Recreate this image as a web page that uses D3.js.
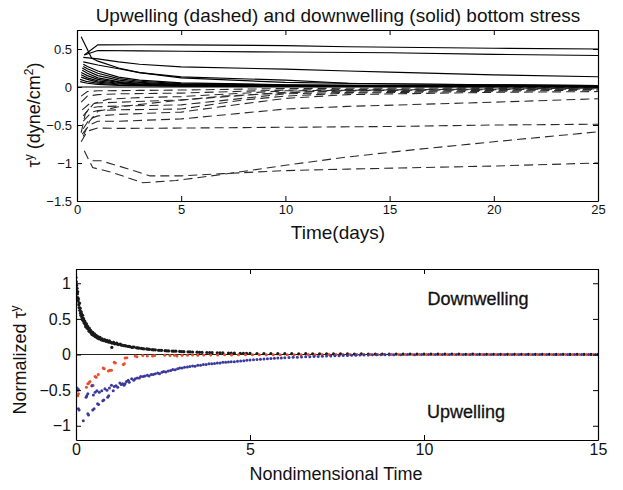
<!DOCTYPE html>
<html><head><meta charset="utf-8">
<script src="https://cdn.jsdelivr.net/npm/d3@7"></script>
<style>
body{margin:0;background:#fff}
text{font-family:"Liberation Sans",Arial,Helvetica,sans-serif;fill:#111}
</style>
</head><body><svg id="c" width="623" height="490"></svg>
<script>
// ---------- Upper panel: bottom stress time series (days, dyne/cm^2) ----------
const topXTicks = [0, 5, 10, 15, 20, 25];
const topYTicks = [-1.5, -1, -0.5, 0, 0.5];
const topYLabels = ["\u22121.5", "\u22121", "\u22120.5", "0", "0.5"];

// Downwelling runs (solid)
const down1 = [[0.35,.42],[1.0,.555],[3,.556],[5,.555],[10,.545],[13,.53],[20,.51],[25,.50]];
const down2 = [[0.35,.42],[1.0,.48],[3,.475],[5,.47],[10,.46],[15,.45],[20,.43],[25,.415]];
const down3 = [[0.2,.66],[0.7,.38],[1,.34],[2,.25],[3,.19],[5,.12],[10,.06],[15,.04],[20,.03],[25,.02]];
const down4 = [[0.3,.39],[1,.37],[2,.33],[3,.30],[5,.265],[10,.235],[13,.21],[15,.195],[20,.16],[25,.135]];
const down5 = [[0.3,.33],[1,.29],[2,.24],[3,.19],[5,.134],[10,.09],[13,.05],[20,.03],[25,.02]];
const down6 = [[0.3,.30],[0.5,.27],[1,.21],[2,.13],[3,.09],[5,.055],[10,.03],[15,.02],[25,.015]];
const down7 = [[0.3,.27],[0.5,.24],[1,.18],[2,.11],[3,.075],[5,.045],[10,.025],[25,.012]];
const down8 = [[0.25,.25],[0.5,.21],[1,.15],[2,.09],[3,.06],[5,.035],[10,.02],[25,.01]];
const down9 = [[0.25,.22],[0.5,.18],[1,.12],[2,.07],[3,.05],[5,.03],[10,.015],[25,.008]];
const down10 = [[0.2,.19],[0.5,.15],[1,.10],[2,.06],[3,.04],[5,.025],[10,.012],[25,.006]];
const down11 = [[0.2,.16],[0.5,.12],[1,.08],[2,.05],[3,.035],[5,.02],[10,.01],[25,.005]];
const down12 = [[0.2,.13],[0.5,.10],[1,.065],[2,.04],[3,.03],[5,.017],[25,.004]];
const down13 = [[0.15,.10],[0.5,.07],[1,.05],[2,.03],[3,.022],[5,.013],[25,.003]];
const down14 = [[0.15,.07],[0.5,.05],[1,.035],[2,.022],[5,.01],[25,.002]];
const downwelling = [down1,down2,down3,down4,down5,down6,down7,down8,down9,down10,down11,down12,down13,down14];

// Upwelling runs (dashed)
const up1 = [[0.2,-.72],[0.5,-.58],[1,-.54],[2,-.545],[5,-.54],[10,-.53],[15,-.52],[20,-.50],[25,-.49]];
const up2 = [[0.25,-.62],[0.6,-.50],[1,-.45],[2,-.45],[5,-.42],[10,-.29],[13,-.255],[20,-.20],[25,-.155]];
const up3 = [[0.3,-.55],[0.6,-.42],[1,-.38],[2,-.36],[5,-.33],[8,-.22],[10,-.15],[13,-.10],[20,-.07],[25,-.06]];
const up4 = [[0.3,-.45],[0.7,-.33],[1,-.31],[2,-.30],[5,-.29],[8,-.17],[10,-.12],[13,-.08],[25,-.04]];
const up5 = [[0.3,-.38],[0.6,-.28],[1,-.26],[2,-.25],[5,-.235],[10,-.09],[15,-.06],[25,-.03]];
const up6 = [[0.25,-.30],[0.6,-.22],[1,-.21],[2,-.20],[5,-.17],[10,-.07],[15,-.045],[25,-.02]];
const up7 = [[0.2,-.20],[0.5,-.12],[1,-.10],[2,-.09],[5,-.08],[10,-.04],[25,-.01]];
const up8 = [[0.2,-.12],[0.5,-.06],[1,-.05],[3,-.045],[5,-.04],[10,-.02],[25,-.005]];
const up9 = [[0.2,-.60],[0.4,-.35],[0.8,-.22],[1.5,-.16],[3,-.14],[5,-.126],[10,-.05],[25,-.015]];
const up10 = [[0.3,-.65],[0.6,-.45],[1,-.32],[2,-.26],[4,-.2],[7,-.12],[12,-.05],[25,-.025]];
const up11 = [[0.35,-.84],[0.75,-1.06],[1.7,-1.125],[2.5,-1.20],[3.15,-1.26],[4.75,-1.23],[7,-1.15],[10,-1.03],[13,-.92],[16,-.83],[20,-.72],[25,-.59]];
const up12 = [[0.75,-.97],[1.15,-.97],[2,-1.04],[3,-1.125],[3.5,-1.17],[5,-1.17],[7,-1.14],[10,-1.10],[13,-1.08],[20,-1.04],[25,-1.0]];
const upwelling = [up1,up2,up3,up4,up5,up6,up7,up8,up9,up10,up11,up12];

// ---------- Lower panel: normalized stress vs nondimensional time ----------
const botXTicks = [0, 5, 10, 15];
const botYTicks = [-1, -0.5, 0, 0.5, 1];
const botYLabels = ["\u22121", "\u22120.5", "0", "0.5", "1"];

const downPts = [
 [0.00,1.08],[0.01,1.02],[0.02,0.97],[0.02,0.90],[0.03,0.93],[0.04,0.85],[0.05,0.80],[0.05,0.88],[0.06,0.75],[0.07,0.78],
 [0.08,0.70],[0.09,0.66],[0.10,0.72],[0.11,0.62],[0.12,0.65],[0.13,0.58],[0.14,0.55],[0.15,0.60],[0.17,0.52],[0.18,0.49],
 [0.19,0.55],[0.21,0.47],[0.22,0.50],[0.24,0.44],[0.25,0.47],[0.27,0.42],[0.28,0.39],[0.30,0.43],[0.32,0.37],[0.33,0.40],
 [0.35,0.36],[0.37,0.33],[0.38,0.37],[0.40,0.32],[0.42,0.34],[0.44,0.30],[0.46,0.28],[0.48,0.31],[0.50,0.27],[0.53,0.29],
 [0.55,0.25],[0.58,0.27],[0.60,0.24],[0.63,0.25],[0.66,0.22],[0.69,0.24],[0.72,0.21],[0.75,0.22],[0.78,0.20],[0.82,0.21],
 [0.85,0.19],[0.89,0.20],[0.92,0.18],[0.96,0.19],[1.00,0.17],[1.03,0.10],[1.04,0.16],[1.08,0.17],[1.12,0.15],[1.17,0.16],
 [1.22,0.14],[1.27,0.145],[1.32,0.13],[1.37,0.125],[1.43,0.12],[1.49,0.115],[1.55,0.11],[1.61,0.10],[1.67,0.105],[1.74,0.095],
 [1.81,0.09],[1.88,0.085],[1.95,0.08],[2.03,0.078],[2.11,0.072],[2.19,0.068],[2.28,0.065],[2.37,0.06],[2.46,0.058],[2.56,0.054],
 [2.66,0.05],[2.76,0.048],[2.87,0.046],[2.98,0.043],[3.10,0.04],[3.22,0.038],[3.35,0.035],[3.48,0.033],[3.62,0.03],[3.76,0.028],
 [3.91,0.026],[4.06,0.024],[4.22,0.022],[4.38,0.02],[4.55,0.018],[4.72,0.016],[4.90,0.015],
 [0.16,0.57],[0.20,0.51],[0.23,0.46],[0.26,0.45],[0.29,0.41],[0.34,0.38],[0.39,0.34],[0.43,0.32],[0.47,0.30],[0.52,0.27],
 [0.57,0.26],[0.62,0.23],[0.68,0.225],[0.74,0.205],[0.80,0.195],[0.87,0.185],[0.94,0.175],[1.01,0.165],[1.10,0.155],[1.19,0.145],
 [1.30,0.135],[1.40,0.125],[1.52,0.115],[1.64,0.105],[1.77,0.092],[1.91,0.083],[2.07,0.075],[2.23,0.066],[2.41,0.06],[2.61,0.052],
 [2.81,0.047],[3.04,0.041],[3.28,0.036],[3.55,0.031],[3.84,0.027],[4.14,0.023],[4.46,0.019],[4.81,0.016],
 [5.0,.015],[5.2,.014],[5.4,.013],[5.6,.014],[5.8,.012],[6.0,.011],[6.2,.012],[6.4,.010],[6.6,.011],[6.8,.009],
 [7.0,.010],[7.2,.009],[7.4,.008],[7.6,.009],[7.8,.008],[8.0,.007],[8.2,.008],[8.4,.007],[8.6,.006],[8.8,.007],
 [9.0,.006],[9.2,.006],[9.4,.005],[9.6,.006],[9.8,.005],[10.0,.005],[10.2,.004],[10.4,.005],[10.6,.004],[10.8,.004],
 [11.0,.004],[11.2,.003],[11.4,.004],[11.6,.003],[11.8,.003],[12.0,.003],[12.2,.002],[12.4,.003],[12.6,.002],[12.8,.002],
 [13.0,.003],[13.2,.002],[13.4,.002],[13.6,.002],[13.8,.001],[14.0,.002],[14.2,.001],[14.4,.002],[14.6,.001],[14.8,.001],[15.0,.001]
];

const upFastPts = [
 [0.05,-.58],[0.07,-.55],[0.30,-.46],[0.34,-.41],[0.37,-.40],[0.40,-.38],[0.46,-.44],[0.49,-.43],[0.55,-.31],[0.58,-.32],
 [0.64,-.28],[0.78,-.19],[0.81,-.20],[0.93,-.23],[0.97,-.22],[1.02,-.22],[1.10,-.11],[1.13,-.12],[1.36,-.14],[1.39,-.13],
 [1.41,-.05],[1.46,-.045],[1.70,-.02],[1.75,-.03],[1.92,-.015],[2.05,-.02],[2.20,-.02],[2.26,-.015],[2.55,-.012],[2.70,-.015],
 [2.83,-.01],[2.90,-.02],[3.05,-.01],[3.20,-.012],[3.35,-.008],[3.50,-.01],
 [3.67,-.008],[3.87,-.006],[4.07,-.007],[4.27,-.005],[4.47,-.006],[4.67,-.004],[4.87,-.005],[5.07,-.004],[5.27,-.003],[5.47,-.004],
 [5.67,-.003],[5.87,-.002],[6.07,-.003],[6.27,-.002],[6.47,-.002],[6.67,-.001],[6.87,-.002],[7.07,-.001],[7.27,-.001],[7.47,0],
 [7.67,-.001],[7.87,0],[8.07,.001],[8.27,0],[8.47,0],[8.67,.001],[8.87,0],[9.07,0],[9.27,.001],[9.47,0],
 [9.67,0],[9.87,.001],[10.07,0],[10.27,0],[10.47,.001],[10.67,0],[10.87,0],[11.07,.001],[11.27,0],[11.47,0],
 [11.67,.001],[11.87,0],[12.07,0],[12.27,.001],[12.47,0],[12.67,0],[12.87,.001],[13.07,0],[13.27,0],[13.47,.001],
 [13.67,0],[13.87,0],[14.07,.001],[14.27,0],[14.47,0],[14.67,.001],[14.87,0]
];

const upSlowPts = [
 [0.03,-.47],[0.05,-.50],[0.07,-.49],[0.07,-.76],[0.09,-.78],[0.21,-.93],[0.29,-.60],[0.31,-.58],[0.34,-.55],[0.34,-.83],
 [0.36,-.85],[0.46,-.44],[0.48,-.78],[0.50,-.57],[0.52,-.76],[0.55,-.53],[0.60,-.51],[0.62,-.69],[0.65,-.70],[0.67,-.53],
 [0.74,-.51],[0.77,-.65],[0.80,-.64],[0.83,-.48],[0.89,-.50],[0.91,-.60],[0.94,-.58],[0.96,-.47],[1.02,-.43],[1.07,-.51],
 [1.10,-.45],[1.15,-.44],[1.20,-.46],[1.26,-.40],[1.30,-.42],[1.34,-.41],[1.38,-.43],[1.41,-.41],
 [1.45,-.38],[1.50,-.36],[1.53,-.39],[1.60,-.34],[1.66,-.36],[1.70,-.34],[1.76,-.33],[1.82,-.33],[1.86,-.31],[1.93,-.31],
 [1.98,-.30],[2.05,-.29],[2.10,-.30],[2.16,-.28],[2.22,-.28],[2.28,-.27],[2.35,-.26],[2.40,-.27],[2.47,-.25],[2.52,-.24],
 [2.58,-.245],[2.65,-.23],[2.72,-.225],[2.78,-.21],[2.85,-.215],[2.92,-.20],[2.98,-.19],[3.05,-.19],[3.12,-.18],[3.20,-.175],
 [3.27,-.17],[3.35,-.16],[3.42,-.165],[3.50,-.15],[3.58,-.15],[3.66,-.14],[3.74,-.14],[3.82,-.13],[3.90,-.13],[3.98,-.125],
 [4.06,-.12],[4.14,-.12],[4.22,-.11],[4.30,-.11],[4.38,-.105],[4.46,-.10],[4.55,-.10],[4.64,-.095],[4.73,-.09],[4.82,-.088],
 [4.91,-.082],[5.00,-.078],[5.10,-.075],[5.20,-.07],[5.30,-.068],[5.40,-.062],[5.50,-.06],[5.60,-.055],[5.70,-.052],[5.80,-.05],
 [5.90,-.048],[6.00,-.045],[6.12,-.042],[6.24,-.04],[6.36,-.038],[6.48,-.036],[6.60,-.033],[6.72,-.031],[6.84,-.029],[6.96,-.027],
 [7.08,-.024],[7.20,-.022],[7.32,-.021],[7.44,-.019],[7.56,-.017],[7.68,-.015],[7.80,-.013],[7.92,-.011],[8.04,-.009],[8.16,-.008],
 [8.28,-.007],[8.40,-.006],[8.52,-.005],[8.64,-.004],[8.76,-.004],[8.88,-.003],[9.00,-.003],
 [9.13,-.002],[9.33,-.002],[9.53,-.001],[9.73,-.002],[9.93,-.001],[10.13,-.001],[10.33,0],[10.53,-.001],[10.73,0],[10.93,-.001],
 [11.13,0],[11.33,0],[11.53,-.001],[11.73,0],[11.93,0],[12.13,-.001],[12.33,0],[12.53,0],[12.73,-.001],[12.93,0],
 [13.13,0],[13.33,-.001],[13.53,0],[13.73,0],[13.93,-.001],[14.13,0],[14.33,0],[14.53,-.001],[14.73,0],[14.93,0]
];

// ---------- drawing ----------
const svg = d3.select("#c");
const font = '"Liberation Sans",Arial,Helvetica,sans-serif';

function frame(g, x, y, xTicks, yTicks, yLabels, tickFont) {
  const [x0, x1] = x.range(), [y0, y1] = y.range();
  const tl = 5;
  g.append("g").attr("transform", `translate(0,${y0})`)
    .call(d3.axisBottom(x).tickValues(xTicks).tickSize(-tl).tickSizeOuter(0).tickPadding(4).tickFormat(d3.format("d")));
  g.append("g").attr("transform", `translate(0,${y1})`)
    .call(d3.axisTop(x).tickValues(xTicks).tickSize(-tl).tickSizeOuter(0).tickFormat(""));
  g.append("g").attr("transform", `translate(${x0},0)`)
    .call(d3.axisLeft(y).tickValues(yTicks).tickSize(-tl).tickSizeOuter(0).tickPadding(5).tickFormat((d, i) => yLabels[i]));
  g.append("g").attr("transform", `translate(${x1},0)`)
    .call(d3.axisRight(y).tickValues(yTicks).tickSize(-tl).tickSizeOuter(0).tickFormat(""));
  g.selectAll(".domain").attr("stroke", "#000").attr("stroke-width", 1.2);
  g.selectAll(".tick line").attr("stroke", "#000");
  g.selectAll(".tick text").attr("font-family", font).attr("font-size", tickFont).attr("fill", "#111");
}

// Upper panel
const xT = d3.scaleLinear().domain([0, 25]).range([77, 598]);
const yT = d3.scaleLinear().domain([-1.5, 0.75]).range([201, 30]);
svg.append("clipPath").attr("id", "clipT").append("rect")
  .attr("x", 77).attr("y", 30).attr("width", 521).attr("height", 171);
const gT = svg.append("g");
const pT = gT.append("g").attr("clip-path", "url(#clipT)");
const lineT = d3.line().x(d => xT(d[0])).y(d => yT(d[1]));
pT.append("line").attr("x1", xT(0)).attr("x2", xT(25)).attr("y1", yT(0)).attr("y2", yT(0))
  .attr("stroke", "#000").attr("stroke-width", 1);
pT.selectAll("path.up").data(upwelling).join("path").attr("class", "up")
  .attr("d", lineT).attr("fill", "none").attr("stroke", "#2a2a2a").attr("stroke-width", 1.1)
  .attr("stroke-dasharray", "9,5");
pT.selectAll("path.down").data(downwelling).join("path").attr("class", "down")
  .attr("d", lineT).attr("fill", "none").attr("stroke", "#000").attr("stroke-width", 1.15);
frame(gT, xT, yT, topXTicks, topYTicks, topYLabels, 13);

svg.append("text").attr("x", 338).attr("y", 22).attr("text-anchor", "middle")
  .attr("font-size", 19).text("Upwelling (dashed) and downwelling (solid) bottom stress");
svg.append("text").attr("x", 338).attr("y", 239).attr("text-anchor", "middle")
  .attr("font-size", 19).text("Time(days)");
const yl1 = svg.append("text").attr("transform", "translate(40,115) rotate(-90)")
  .attr("text-anchor", "middle").attr("font-size", 18);
yl1.append("tspan").text("\u03c4");
yl1.append("tspan").attr("dy", -7).attr("font-size", 12).text("y");
yl1.append("tspan").attr("dy", 7).text(" (dyne/cm");
yl1.append("tspan").attr("dy", -7).attr("font-size", 12).text("2");
yl1.append("tspan").attr("dy", 7).text(")");

// Lower panel
const xB = d3.scaleLinear().domain([0, 15]).range([76, 598]);
const yB = d3.scaleLinear().domain([-1.2, 1.2]).range([440, 269]);
svg.append("clipPath").attr("id", "clipB").append("rect")
  .attr("x", 76).attr("y", 269).attr("width", 522).attr("height", 171);
const gB = svg.append("g");
const pB = gB.append("g").attr("clip-path", "url(#clipB)");
pB.append("line").attr("x1", xB(0)).attr("x2", xB(15)).attr("y1", yB(0)).attr("y2", yB(0))
  .attr("stroke", "#222").attr("stroke-width", 1);
const dots = (data, color, r) => pB.append("g").selectAll("circle").data(data).join("circle")
  .attr("cx", d => xB(d[0])).attr("cy", d => yB(d[1])).attr("r", r).attr("fill", color);
dots(downPts, "#1a1a1a", 1.6);
dots(upFastPts, "#ee4a2a", 1.5);
dots(upSlowPts, "#3b3a9c", 1.5);
frame(gB, xB, yB, botXTicks, botYTicks, botYLabels, 16);

svg.append("text").attr("x", 478).attr("y", 305).attr("text-anchor", "middle")
  .attr("font-size", 18).attr("stroke", "#111").attr("stroke-width", 0.3).text("Downwelling");
svg.append("text").attr("x", 466).attr("y", 418).attr("text-anchor", "middle")
  .attr("font-size", 18).attr("stroke", "#111").attr("stroke-width", 0.3).text("Upwelling");
svg.append("text").attr("x", 336).attr("y", 480).attr("text-anchor", "middle")
  .attr("font-size", 18).text("Nondimensional Time");
const yl2 = svg.append("text").attr("transform", "translate(26,360) rotate(-90)")
  .attr("text-anchor", "middle").attr("font-size", 18);
yl2.append("tspan").text("Normalized \u03c4");
yl2.append("tspan").attr("dy", -7).attr("font-size", 12).text("y");
</script></body></html>
